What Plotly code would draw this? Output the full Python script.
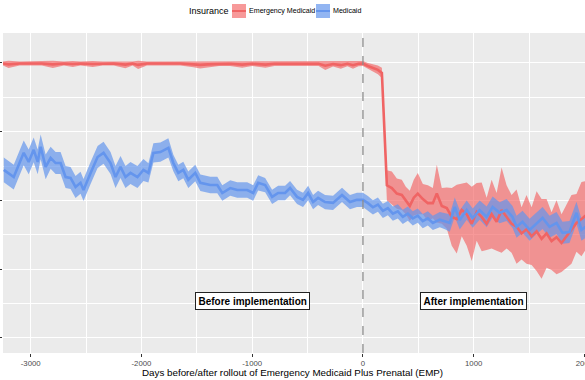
import plotly.graph_objects as go

# ---------------- data ----------------
red_days = [-3250, -3200, -3100, -3000, -2900, -2800, -2700, -2620, -2550, -2440,
            -2350, -2250, -2145, -2080, -2030, -1950, -1850, -1750, -1650, -1530,
            -1470, -1400, -1300, -1200, -1090, -1000, -880, -800, -700, -600,
            -500, -400, -340, -270, -200, -140, -90, -40, 0,
            45, 90, 135, 171, 198, 216, 261, 306, 351, 387, 423, 459, 495, 541, 586,
            631, 667, 712, 757, 802, 847, 892, 937, 982, 1027, 1072, 1117, 1162, 1207,
            1252, 1297, 1342, 1387, 1432, 1477, 1523, 1568, 1613, 1658, 1703, 1748,
            1793, 1838, 1883, 1928, 1973, 2010]
red_mean = [0.998, 0.995, 0.998, 0.999, 0.998, 0.995, 0.998, 0.996, 0.998, 0.996,
            0.998, 0.998, 0.994, 0.998, 0.993, 0.998, 0.998, 0.998, 0.998, 0.995,
            0.993, 0.995, 0.997, 0.997, 0.994, 0.997, 0.994, 0.997, 0.997, 0.998,
            0.997, 0.997, 0.990, 0.996, 0.992, 0.997, 0.992, 0.997, 0.998,
            0.989, 0.982, 0.975, 0.964, 0.72, 0.555, 0.545, 0.525, 0.520, 0.500, 0.480,
            0.510, 0.525, 0.505, 0.490, 0.490, 0.525, 0.480, 0.472, 0.440, 0.432, 0.465,
            0.450, 0.415, 0.458, 0.440, 0.415, 0.450, 0.422, 0.465, 0.440, 0.415, 0.405,
            0.380, 0.395, 0.370, 0.388, 0.360, 0.380, 0.352, 0.366, 0.345, 0.370, 0.395,
            0.418, 0.432, 0.445]
red_hw = [0.007, 0.013, 0.007, 0.007, 0.007, 0.013, 0.007, 0.011, 0.007, 0.011,
          0.007, 0.007, 0.013, 0.007, 0.015, 0.007, 0.007, 0.007, 0.007, 0.011,
          0.013, 0.011, 0.008, 0.008, 0.011, 0.008, 0.011, 0.008, 0.008, 0.008,
          0.008, 0.008, 0.016, 0.009, 0.013, 0.009, 0.013, 0.009, 0.009,
          0.011, 0.013, 0.016, 0.019, 0.045, 0.055, 0.06, 0.055, 0.055, 0.05, 0.055, 0.065,
          0.075, 0.055, 0.065, 0.055, 0.105, 0.065, 0.075, 0.105, 0.125, 0.095, 0.115, 0.135,
          0.105, 0.125, 0.095, 0.125, 0.105, 0.155, 0.115, 0.105, 0.135, 0.095, 0.125, 0.105,
          0.145, 0.145, 0.125, 0.105, 0.135, 0.105, 0.115, 0.125, 0.105, 0.135, 0.125]

blue_days = [-3243, -3153, -3063, -3018, -2973, -2937, -2910, -2865, -2820, -2775,
             -2730, -2685, -2640, -2595, -2550, -2523, -2459, -2396, -2342, -2279,
             -2234, -2189, -2144, -2099, -2036, -1982, -1937, -1892, -1829, -1757,
             -1712, -1667, -1622, -1577, -1514, -1468, -1378, -1315, -1270, -1198,
             -1135, -1045, -991, -946, -883, -820, -766, -703, -658, -595,
             -541, -495, -450, -405, -342, -270, -189, -117, -54, 0,
             45, 90, 135, 180, 225, 270, 315, 360, 405, 450, 495, 540, 586, 631, 694,
             740, 784, 829, 874, 937, 991, 1054, 1117, 1171, 1234, 1297, 1351, 1387,
             1441, 1505, 1568, 1622, 1685, 1748, 1802, 1865, 1928, 1973, 2010]
blue_mean = [0.611, 0.585, 0.673, 0.640, 0.684, 0.640, 0.695, 0.622, 0.655, 0.636,
             0.636, 0.585, 0.582, 0.549, 0.564, 0.538, 0.600, 0.658, 0.673, 0.636,
             0.585, 0.622, 0.585, 0.600, 0.585, 0.611, 0.600, 0.673, 0.676, 0.691,
             0.636, 0.600, 0.611, 0.575, 0.600, 0.564, 0.556, 0.556, 0.527, 0.545,
             0.538, 0.538, 0.527, 0.564, 0.556, 0.513, 0.527, 0.527, 0.545, 0.513,
             0.502, 0.527, 0.494, 0.509, 0.494, 0.491, 0.520, 0.494, 0.502, 0.502,
             0.490, 0.475, 0.485, 0.462, 0.472, 0.452, 0.460, 0.440, 0.452, 0.435,
             0.445, 0.425, 0.435, 0.418, 0.430, 0.425, 0.418, 0.476, 0.429, 0.465,
             0.436, 0.465, 0.440, 0.476, 0.455, 0.465, 0.440, 0.404, 0.422, 0.393,
             0.418, 0.436, 0.404, 0.418, 0.382, 0.385, 0.455, 0.393, 0.404]
blue_hw = [0.045, 0.045, 0.045, 0.045, 0.045, 0.045, 0.045, 0.045, 0.040, 0.040,
           0.040, 0.040, 0.040, 0.040, 0.040, 0.040, 0.040, 0.040, 0.040, 0.040,
           0.040, 0.040, 0.040, 0.040, 0.040, 0.040, 0.035, 0.035, 0.035, 0.035,
           0.030, 0.030, 0.030, 0.030, 0.030, 0.030, 0.030, 0.030, 0.028, 0.028,
           0.028, 0.028, 0.028, 0.028, 0.026, 0.026, 0.026, 0.026, 0.026, 0.026,
           0.026, 0.026, 0.026, 0.026, 0.026, 0.026, 0.026, 0.026, 0.026, 0.026,
           0.026, 0.026, 0.026, 0.026, 0.026, 0.026, 0.026, 0.026, 0.026, 0.026,
           0.026, 0.026, 0.026, 0.026, 0.028, 0.030, 0.032, 0.035, 0.035, 0.035,
           0.035, 0.035, 0.038, 0.038, 0.038, 0.040, 0.040, 0.040, 0.040, 0.040,
           0.040, 0.040, 0.040, 0.040, 0.040, 0.040, 0.040, 0.040, 0.040]

x_ticks = [-3000, -2000, -1000, 0, 1000, 2000]
y_ticks = [0, 0.25, 0.5, 0.75, 1.0]
series_names = ["Emergency Medicaid", "Medicaid"]
panel_labels = ["Before implementation", "After implementation"]
panel_label_days = [-1000, 1000]
panel_label_value = 0.135
x_title = "Days before/after rollout of Emergency Medicaid Plus Prenatal (EMP)"

# ---------------- styling ----------------
RED_LINE = "#F06464"
RED_BAND = "rgba(242,98,98,0.65)"
BLUE_LINE = "#6495ED"
BLUE_BAND = "rgba(100,149,237,0.70)"
FONT = "Liberation Sans, Arial, sans-serif"


def band(days, mean, hw, color):
    up = [m + h for m, h in zip(mean, hw)]
    lo = [m - h for m, h in zip(mean, hw)]
    return go.Scatter(x=list(days) + list(days[::-1]), y=up + lo[::-1],
                      fill="toself", fillcolor=color, mode="lines",
                      line=dict(width=0), hoverinfo="skip", showlegend=False)


fig = go.Figure()
fig.add_trace(band(red_days, red_mean, red_hw, RED_BAND))
fig.add_trace(band(blue_days, blue_mean, blue_hw, BLUE_BAND))
fig.add_trace(go.Scatter(x=red_days, y=red_mean, mode="lines", name=series_names[0],
                         line=dict(color=RED_LINE, width=2.6), showlegend=False))
fig.add_trace(go.Scatter(x=blue_days, y=blue_mean, mode="lines", name=series_names[1],
                         line=dict(color=BLUE_LINE, width=2.6), showlegend=False))

W, H = 585, 380
ML, MR, MT, MB = 3, 0, 33, 27
PW, PH = W - ML - MR, H - MT - MB


def px2paper(px, py):
    return (px - ML) / PW, (H - MB - py) / PH


shapes = [dict(type="line", xref="x", yref="paper", x0=0, x1=0, y0=0, y1=1,
               line=dict(color="#8C8C8C", width=1.3, dash="dash"))]
annotations = []

# manual legend (ggplot style, top)
lx, ly = px2paper(209, 11)
annotations.append(dict(xref="paper", yref="paper", x=lx, y=ly, yanchor="middle",
                        text="Insurance", showarrow=False,
                        font=dict(family=FONT, size=9, color="#000")))
legend_items = [(232, 246, 247, RED_BAND, RED_LINE, series_names[0]),
                (316, 330, 331, BLUE_BAND, BLUE_LINE, series_names[1])]
for k0, k1, tx, fillc, linec, name in legend_items:
    x0, y0 = px2paper(k0, 18)
    x1, y1 = px2paper(k1, 4)
    shapes.append(dict(type="rect", xref="paper", yref="paper", x0=x0, x1=x1, y0=y0, y1=y1,
                       fillcolor=fillc, line=dict(width=0)))
    ym = (y0 + y1) / 2
    shapes.append(dict(type="line", xref="paper", yref="paper", x0=x0, x1=x1, y0=ym, y1=ym,
                       line=dict(color=linec, width=2)))
    tpx, tpy = px2paper(tx, 11)
    annotations.append(dict(xref="paper", yref="paper", x=tpx, y=tpy, xanchor="left",
                            yanchor="middle", text=name, showarrow=False,
                            font=dict(family=FONT, size=7.1, color="#000")))

for lab, d in zip(panel_labels, panel_label_days):
    annotations.append(dict(x=d, y=panel_label_value, xref="x", yref="y", text="<b>" + lab + "</b>",
                            showarrow=False, bgcolor="white", bordercolor="#222", borderwidth=1,
                            borderpad=2.5, font=dict(family=FONT, size=10, color="#000")))

# x-axis title placed as in reference
tx_, ty_ = px2paper(292, 372)
annotations.append(dict(xref="paper", yref="paper", x=tx_, y=ty_, yanchor="middle",
                        text=x_title, showarrow=False,
                        font=dict(family=FONT, size=9.8, color="#000")))

fig.update_layout(
    width=W, height=H,
    margin=dict(l=ML, r=MR, t=MT, b=MB, pad=0),
    paper_bgcolor="white", plot_bgcolor="#EBEBEB",
    font=dict(family=FONT, color="#000"),
    shapes=shapes, annotations=annotations,
    showlegend=False,
)
fig.update_xaxes(range=[-3250, 2005], tickvals=x_ticks, ticktext=[str(v) for v in x_ticks],
                 showgrid=True, gridcolor="white", gridwidth=1.1, zeroline=False,
                 minor=dict(dtick=500, tick0=0, showgrid=True, gridcolor="white", gridwidth=0.5),
                 ticks="outside", ticklen=3, tickcolor="#333", tickwidth=1,
                 ticklabeloverflow="allow",
                 tickfont=dict(family=FONT, size=7.8, color="#4D4D4D"),
                 automargin=False)
fig.update_yaxes(range=[-0.055, 1.109], tickvals=y_ticks, showticklabels=False,
                 showgrid=True, gridcolor="white", gridwidth=1.1, zeroline=False,
                 minor=dict(dtick=0.125, tick0=0, showgrid=True, gridcolor="white", gridwidth=0.5),
                 ticks="outside", ticklen=3, tickcolor="#333", tickwidth=1,
                 automargin=False)

fig.write_html("out.html", config={"displayModeBar": False},
               post_script="document.body.style.margin='0';document.body.style.padding='0';"
                           "document.body.style.overflow='hidden';")
